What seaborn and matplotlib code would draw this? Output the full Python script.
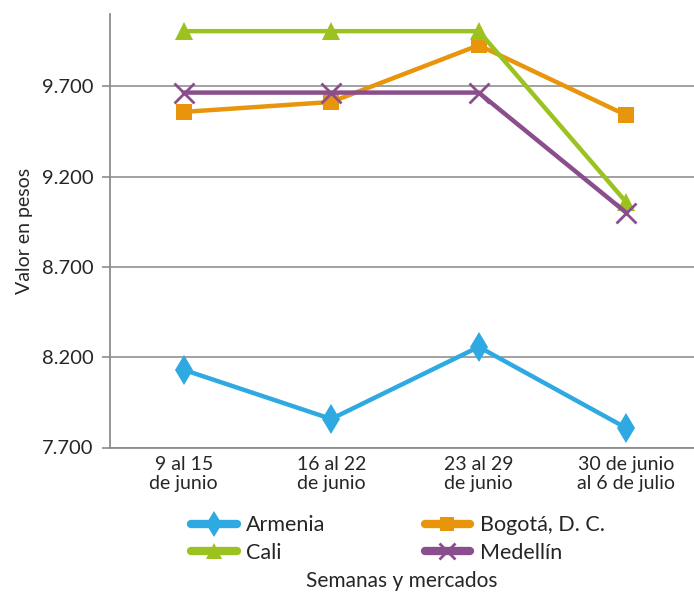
import matplotlib
matplotlib.use("Agg")
import matplotlib.pyplot as plt
from matplotlib.ticker import FuncFormatter
import seaborn as sns
import pandas as pd

semanas = ["9 al 15\nde junio", "16 al 22\nde junio", "23 al 29\nde junio", "30 de junio\nal 6 de julio"]
armenia = [8130, 7858, 8257, 7808]
bogota = [9558, 9613, 9927, 9540]
cali = [10005, 10005, 10005, 9058]
medellin = [9665, 9665, 9665, 9000]
mercados = ["Armenia", "Bogotá, D. C.", "Cali", "Medellín"]
yticks = [7700, 8200, 8700, 9200, 9700]

series = [armenia, bogota, cali, medellin]
rows = []
for name, vals in zip(mercados, series):
    for i, (s, v) in enumerate(zip(semanas, vals)):
        rows.append({"semana": s, "pos": i, "mercado": name, "valor": v})
df = pd.DataFrame(rows)

sns.set_theme(style="white")
plt.rcParams["font.family"] = ["Lato", "DejaVu Sans"]

colors = {"Armenia": "#2EA9E1", "Bogotá, D. C.": "#E8950B",
          "Cali": "#9CC21F", "Medellín": "#8A4E8C"}
markers = {"Armenia": "d", "Bogotá, D. C.": "s", "Cali": "^", "Medellín": "x"}
msizes = {"Armenia": 15, "Bogotá, D. C.": 12, "Cali": 13, "Medellín": 14}

fig = plt.figure(figsize=(6.94, 5.96), dpi=100)
ax = fig.add_axes([110 / 694, (596 - 447.5) / 596, 590 / 694, 433.5 / 596])

handles = {}
for name in mercados:
    sub = df[df["mercado"] == name]
    sns.lineplot(data=sub, x="pos", y="valor", color=colors[name],
                 marker=markers[name], markersize=msizes[name],
                 markeredgewidth=2.0 if name == "Medellín" else 0,
                 markeredgecolor=colors[name], linewidth=3.2, ax=ax,
                 label=name, legend=False)
    handles[name] = ax.lines[-1]

ax.set_ylim(7700, 10100)
ax.set_xlim(-0.5, 3.5)
ax.set_yticks(yticks)
ax.yaxis.set_major_formatter(FuncFormatter(lambda v, p: f"{int(v):,}".replace(",", ".")))
ax.set_xticks(range(len(semanas)))
ax.set_xticklabels(semanas, fontsize=14, linespacing=1.15)
ax.tick_params(axis="y", labelsize=14.5, length=6, width=1.2, color="#8c8c8c", pad=6, left=True)
ax.tick_params(axis="x", length=0, pad=6)
ax.grid(axis="y", color="#9a9a9a", linewidth=1.3)
ax.set_axisbelow(True)
for s in ["top", "right"]:
    ax.spines[s].set_visible(False)
for s in ["left", "bottom"]:
    ax.spines[s].set_color("#8c8c8c")
    ax.spines[s].set_linewidth(1.3)
ax.set_xlabel("")
ax.set_ylabel("Valor en pesos", fontsize=14, labelpad=6)

order = ["Armenia", "Cali", "Bogotá, D. C.", "Medellín"]
leg = fig.legend([handles[k] for k in order], order, ncol=2, frameon=False,
                 loc="upper left", bbox_to_anchor=(172 / 694, 1 - 496 / 596),
                 fontsize=15.5, handlelength=2.1, columnspacing=4.6,
                 handletextpad=0.45, labelspacing=0.35)
for h in leg.legend_handles:
    h.set_linewidth(6)
    h.set_markersize(h.get_markersize() * 0.85)

fig.text(402 / 694, 1 - 581 / 596, "Semanas y mercados", ha="center", va="center", fontsize=15)

fig.savefig("out.png", dpi=100)
